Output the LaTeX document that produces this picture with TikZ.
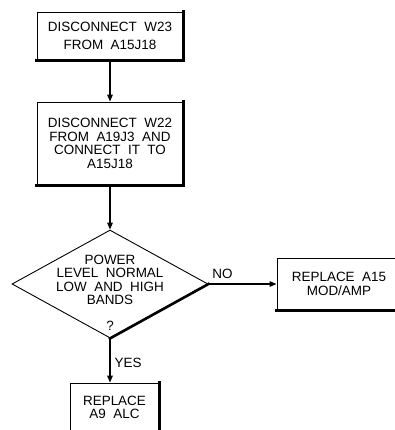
\documentclass[tikz,border=0pt]{standalone}
\usepackage{fontspec}
\setmainfont{Liberation Sans}
\usetikzlibrary{arrows.meta,shapes.geometric}
\begin{document}
\begin{tikzpicture}[x=1bp,y=-1bp,
  every node/.style={font=\fontsize{13.5}{13.5}\selectfont},
  procbox/.style={draw,line width=0.9bp,rectangle,inner sep=0pt,align=center},
  decbox/.style={draw,line width=0.9bp,diamond,inner sep=0pt},
  flow/.style={line width=1.3bp,-{Triangle[length=7bp,width=5.5bp]}},
  shade/.style={line width=2.6bp,line cap=rect},
  lbl/.style={inner sep=0pt}]
\useasboundingbox (0,0) rectangle (395,430);
\clip (0,0) rectangle (395,430);

% process boxes
\node[procbox,minimum width=146bp,minimum height=48bp,
      font=\fontsize{13.5}{18}\selectfont] (b1) at (110,36)
  {DISCONNECT~~W23\\FROM~~A15J18};
\node[procbox,minimum width=146bp,minimum height=83bp] (b2) at (110,143.5)
  {DISCONNECT~~W22\\FROM~~A19J3~~AND\\CONNECT~~IT~~TO\\A15J18};

% decision
\node[decbox,minimum width=196bp,minimum height=108bp] (d) at (110,284) {};
\node[lbl,align=center] (dq) at (110,280)
  {POWER\\LEVEL~~NORMAL\\LOW~~AND~~HIGH\\BANDS};
\node[lbl] (qm) at (110,326) {?};

% outcome boxes
\node[procbox,minimum width=124bp,minimum height=52bp] (b3) at (339,284)
  {REPLACE~~A15\\MOD/AMP};
\node[procbox,minimum width=89bp,minimum height=49bp] (b4) at (114.5,407.5)
  {REPLACE\\A9~~ALC};

% heavy edges on the lower and right sides
\draw[shade] (b1.north east) -- (b1.south east) -- (b1.south west);
\draw[shade] (b2.north east) -- (b2.south east) -- (b2.south west);
\draw[shade] (d.east) -- (d.south);
\draw[shade] (b3.south west) -- (b3.south east);
\draw[shade] (b4.north east) -- (b4.south east);

% connectors
\draw[flow] (b1.south) -- (b2.north);
\draw[flow] (b2.south) -- (d.north);
\draw[flow] (d.east) -- node[lbl,above=5bp,xshift=-20bp] (no) {NO} (b3.west);
\draw[flow] (d.south) -- node[lbl,right=4bp,yshift=-2bp] (yes) {YES} (d.south |- b4.north);
\end{tikzpicture}
\end{document}
